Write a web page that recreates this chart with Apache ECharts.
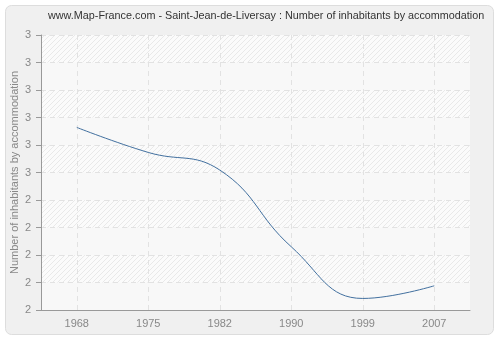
<!DOCTYPE html>
<html>
<head>
<meta charset="utf-8">
<script src="https://cdn.jsdelivr.net/npm/echarts@6/dist/echarts.min.js"></script>
<style>
html,body{margin:0;padding:0;background:#fff;}
#c{width:500px;height:340px;}
</style>
</head>
<body>
<div id="c"></div>
<script>
var years = ['1968', '1975', '1982', '1990', '1999', '2007'];
var inhabitants = [2.664, 2.573, 2.509, 2.23, 2.042, 2.088];
var yTickLabels = ['2', '2', '2', '2', '2', '3', '3', '3', '3', '3', '3'];

function hatch() {
  var n = 5;
  var c = document.createElement('canvas');
  c.width = n; c.height = n;
  var g = c.getContext('2d');
  g.fillStyle = '#fbfbfb';
  g.fillRect(0, 0, n, n);
  g.strokeStyle = '#e9e9e9';
  g.lineWidth = 1;
  g.beginPath();
  g.moveTo(-1, n + 1); g.lineTo(n + 1, -1);
  g.moveTo(-1, 1); g.lineTo(1, -1);
  g.moveTo(n - 1, n + 1); g.lineTo(n + 1, n - 1);
  g.stroke();
  return c;
}

var chart = echarts.init(document.getElementById('c'), null, {renderer: 'canvas'});
var font = 'Liberation Sans';
chart.setOption({
  animation: false,
  backgroundColor: '#fff',
  graphic: [{
    type: 'rect', z: -10, silent: true,
    shape: {x: 5.5, y: 5.5, width: 488, height: 329, r: 6},
    style: {fill: '#f0f0f0', stroke: '#dddddd', lineWidth: 1}
  }],
  title: {
    text: 'www.Map-France.com - Saint-Jean-de-Liversay : Number of inhabitants by accommodation',
    left: 48, top: 11, padding: 0,
    textStyle: {fontFamily: font, fontSize: 10.8, fontWeight: 'normal', color: '#333'}
  },
  grid: {left: 41, right: 30, top: 35, bottom: 30, show: true, borderWidth: 0,
    backgroundColor: '#fafafa', outerBoundsMode: 'none', containLabel: false},
  xAxis: {
    type: 'category',
    data: years,
    boundaryGap: true,
    axisLine: {lineStyle: {color: '#999'}},
    axisTick: {alignWithLabel: true, length: 5, lineStyle: {color: '#999'}},
    axisLabel: {color: '#888', fontFamily: font, fontSize: 11, margin: 8},
    splitLine: {show: true, alignWithLabel: true, lineStyle: {color: '#e2e2e2', type: [5, 4]}}
  },
  yAxis: {
    type: 'value',
    min: 2, max: 3, interval: 0.1,
    name: 'Number of inhabitants by accommodation',
    nameLocation: 'middle', nameGap: 21, nameMoveOverlap: false,
    nameTextStyle: {color: '#888', fontFamily: font, fontSize: 11},
    axisLine: {show: true, lineStyle: {color: '#999'}},
    axisTick: {show: true, length: 5, lineStyle: {color: '#999'}},
    axisLabel: {color: '#888', fontFamily: font, fontSize: 11, margin: 10,
      formatter: function (v, i) { return yTickLabels[i]; }},
    splitLine: {show: true, lineStyle: {color: '#e2e2e2', type: [5, 4]}},
    splitArea: {show: true, areaStyle: {color: ['#f8f8f8', {image: hatch(), repeat: 'repeat'}]}}
  },
  series: [{
    type: 'line',
    data: inhabitants,
    smooth: 0.45,
    symbol: 'none',
    lineStyle: {color: '#42709f', width: 1}
  }]
});
</script>
</body>
</html>
